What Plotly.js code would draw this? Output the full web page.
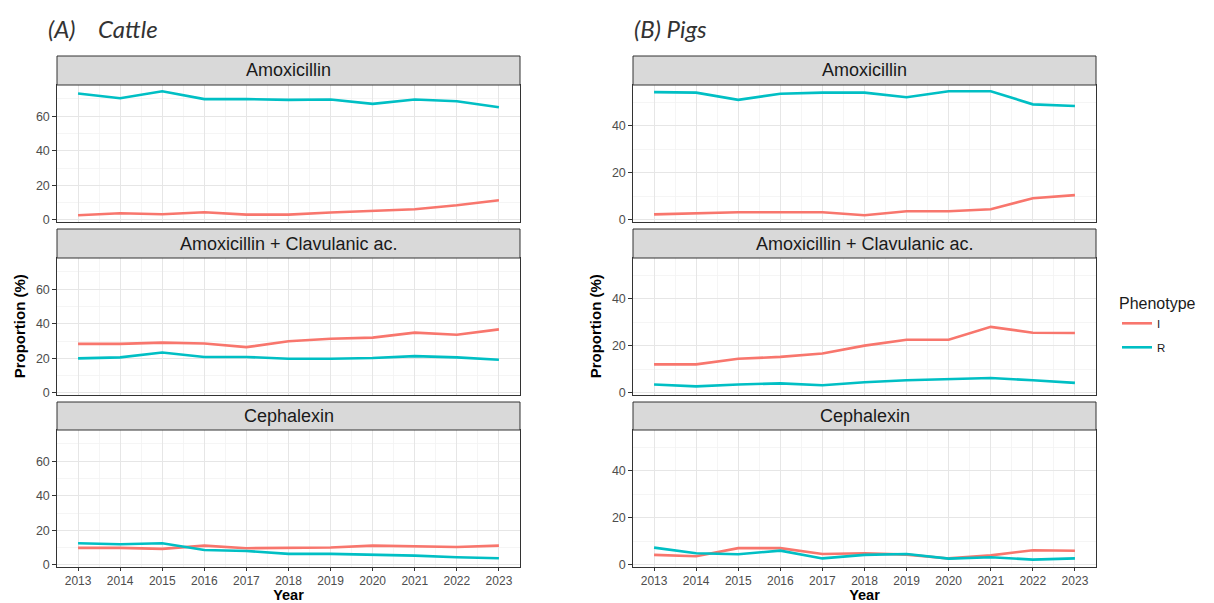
<!DOCTYPE html>
<html><head><meta charset="utf-8">
<script src="https://cdn.plot.ly/plotly-3.0.1.min.js"></script>
<style>html,body{margin:0;padding:0;background:#fff}#chart{width:1214px;height:603px}</style>
</head><body><div id="chart"></div>
<script>
// ---- data ----
const years = [2013, 2014, 2015, 2016, 2017, 2018, 2019, 2020, 2021, 2022, 2023];
const antibiotics = ['Amoxicillin', 'Amoxicillin + Clavulanic ac.', 'Cephalexin'];
const speciesTitles = ['(A)&nbsp;&nbsp;&nbsp;&nbsp;Cattle', '(B) Pigs'];
const phenotypes = ['I', 'R'];

const cattleAmoxI = [2.7, 3.9, 3.3, 4.5, 3.1, 3.1, 4.3, 5.4, 6.2, 8.5, 11.4];
const cattleAmoxR = [73.2, 70.4, 74.5, 69.9, 69.9, 69.5, 69.7, 67.2, 69.7, 68.7, 65.2];
const cattleAmoxClavI = [28.4, 28.4, 29.1, 28.6, 26.5, 29.9, 31.4, 32.0, 34.9, 33.7, 36.8];
const cattleAmoxClavR = [20.0, 20.6, 23.4, 20.8, 20.8, 19.8, 19.8, 20.2, 21.3, 20.6, 19.2];
const cattleCephI = [9.9, 9.9, 9.3, 11.2, 9.7, 10.1, 10.1, 11.2, 10.8, 10.4, 11.2];
const cattleCephR = [12.6, 12.0, 12.6, 8.7, 8.1, 6.4, 6.4, 6.0, 5.4, 4.5, 3.9];

const pigsAmoxI = [2.3, 2.7, 3.2, 3.2, 3.2, 1.9, 3.6, 3.6, 4.5, 9.2, 10.5];
const pigsAmoxR = [54.4, 54.2, 51.1, 53.7, 54.2, 54.2, 52.2, 54.8, 54.8, 49.2, 48.5];
const pigsAmoxClavI = [12.1, 12.1, 14.5, 15.3, 16.7, 20.1, 22.6, 22.6, 28.1, 25.6, 25.5];
const pigsAmoxClavR = [3.5, 2.7, 3.5, 4.0, 3.2, 4.5, 5.3, 5.8, 6.3, 5.3, 4.2];
const pigsCephI = [4.2, 3.6, 7.1, 7.1, 4.6, 4.9, 4.3, 2.7, 4.0, 6.2, 6.0];
const pigsCephR = [7.3, 4.9, 4.5, 6.0, 2.7, 4.2, 4.6, 2.6, 3.2, 2.2, 2.7];

const seriesByPanel = [
  [[cattleAmoxI, cattleAmoxR], [cattleAmoxClavI, cattleAmoxClavR], [cattleCephI, cattleCephR]],
  [[pigsAmoxI, pigsAmoxR], [pigsAmoxClavI, pigsAmoxClavR], [pigsCephI, pigsCephR]]
];

// ggplot-style 5% expansion of the shared y scale for each species
function expandRange(panels) {
  const all = panels.flat(2);
  const lo = Math.min(...all), hi = Math.max(...all), pad = 0.05 * (hi - lo);
  return [lo - pad, hi + pad];
}

// ---- layout geometry ----
const W = 1214, H = 603;
const colors = {I: '#F8766D', R: '#00BFC4'};
const cols = [
  {x0: 57, x1: 520, yr: expandRange(seriesByPanel[0])},
  {x0: 633, x1: 1096, yr: expandRange(seriesByPanel[1])}
];
const rows = [{s0: 56, p0: 85, p1: 221.5}, {s0: 229, p0: 258, p1: 394.5}, {s0: 402, p0: 430, p1: 566.5}];

const font = 'Liberation Sans, Arial, sans-serif';
const traces = [];
const layout = {
  width: W, height: H, margin: {l: 0, r: 0, t: 0, b: 0},
  paper_bgcolor: '#fff', plot_bgcolor: '#fff',
  font: {family: font, color: '#1A1A1A'},
  showlegend: true,
  legend: {x: 1117 / W, y: 1 - 288 / H, xanchor: 'left', yanchor: 'top',
    title: {text: 'Phenotype', font: {size: 16, color: '#1A1A1A'}},
    font: {size: 11.5, color: '#1A1A1A'}, bgcolor: 'rgba(0,0,0,0)', tracegroupgap: 5},
  shapes: [], annotations: []
};

let k = 0;
cols.forEach((c, ci) => {
  rows.forEach((r, ri) => {
    k++;
    const xa = 'xaxis' + (k === 1 ? '' : k), ya = 'yaxis' + (k === 1 ? '' : k);
    const xr = 'x' + (k === 1 ? '' : k), yr = 'y' + (k === 1 ? '' : k);
    const bottom = ri === 2;
    layout[xa] = {
      domain: [c.x0 / W, c.x1 / W], anchor: yr, range: [2012.5, 2023.5],
      tickmode: 'array', tickvals: years, ticktext: years.map(String),
      showticklabels: bottom, ticks: bottom ? 'outside' : '', ticklen: 3.3, tickcolor: '#333', tickwidth: 1,
      tickfont: {size: 12, color: '#4D4D4D', family: font},
      showgrid: true, gridcolor: '#E6E6E6', gridwidth: 1,
      minor: {tickmode: 'linear', tick0: 2012.5, dtick: 1, showgrid: true, gridcolor: '#F2F2F2', gridwidth: 0.8, ticks: ''},
      showline: true, mirror: true, linecolor: '#333', linewidth: 1, zeroline: false, fixedrange: true
    };
    if (bottom) layout[xa].title = {text: '<b>Year</b>', font: {size: 14.5, color: '#000', family: font}, standoff: 10};
    layout[ya] = {
      domain: [1 - r.p1 / H, 1 - r.p0 / H], anchor: xr, range: c.yr,
      tickmode: 'linear', tick0: 0, dtick: 20,
      ticks: 'outside', ticklen: 3.7, tickcolor: '#333', tickwidth: 1,
      tickfont: {size: 12.5, color: '#4D4D4D', family: font},
      showgrid: true, gridcolor: '#E6E6E6', gridwidth: 1,
      minor: {tickmode: 'linear', tick0: 10, dtick: 20, showgrid: true, gridcolor: '#F2F2F2', gridwidth: 0.8, ticks: ''},
      showline: true, mirror: true, linecolor: '#333', linewidth: 1, zeroline: false, fixedrange: true
    };
    if (ri === 1) layout[ya].title = {text: '<b>Proportion (%)</b>', font: {size: 15, color: '#000', family: font}, standoff: 6};

    // facet strip
    layout.shapes.push({type: 'rect', xref: 'paper', yref: 'paper', x0: c.x0 / W, x1: c.x1 / W,
      y0: 1 - r.p0 / H, y1: 1 - r.s0 / H, fillcolor: '#D9D9D9', line: {color: '#333', width: 1}, layer: 'above'});
    layout.annotations.push({xref: 'paper', yref: 'paper', x: (c.x0 + c.x1) / 2 / W, y: 1 - (r.s0 + r.p0) / 2 / H,
      text: antibiotics[ri], showarrow: false, xanchor: 'center', yanchor: 'middle',
      font: {size: 18, color: '#1A1A1A', family: font}});

    phenotypes.forEach((ph, pi) => {
      traces.push({type: 'scatter', mode: 'lines', x: years, y: seriesByPanel[ci][ri][pi],
        xaxis: xr, yaxis: yr, name: ph, legendgroup: ph, showlegend: k === 1,
        line: {color: colors[ph], width: 2.6}, hoverinfo: 'x+y+name'});
    });
  });
});

// species titles
layout.annotations.push({xref: 'paper', yref: 'paper', x: 46 / W, y: 1 - 28 / H, xanchor: 'left', yanchor: 'middle',
  text: '<i>' + speciesTitles[0] + '</i>', showarrow: false, font: {size: 24, color: '#333', family: 'Lato, Open Sans, sans-serif'}});
layout.annotations.push({xref: 'paper', yref: 'paper', x: 632 / W, y: 1 - 28 / H, xanchor: 'left', yanchor: 'middle',
  text: '<i>' + speciesTitles[1] + '</i>', showarrow: false, font: {size: 24, color: '#333', family: 'Lato, Open Sans, sans-serif'}});

Plotly.newPlot('chart', traces, layout, {displayModeBar: false, staticPlot: true});
</script>
</body></html>
